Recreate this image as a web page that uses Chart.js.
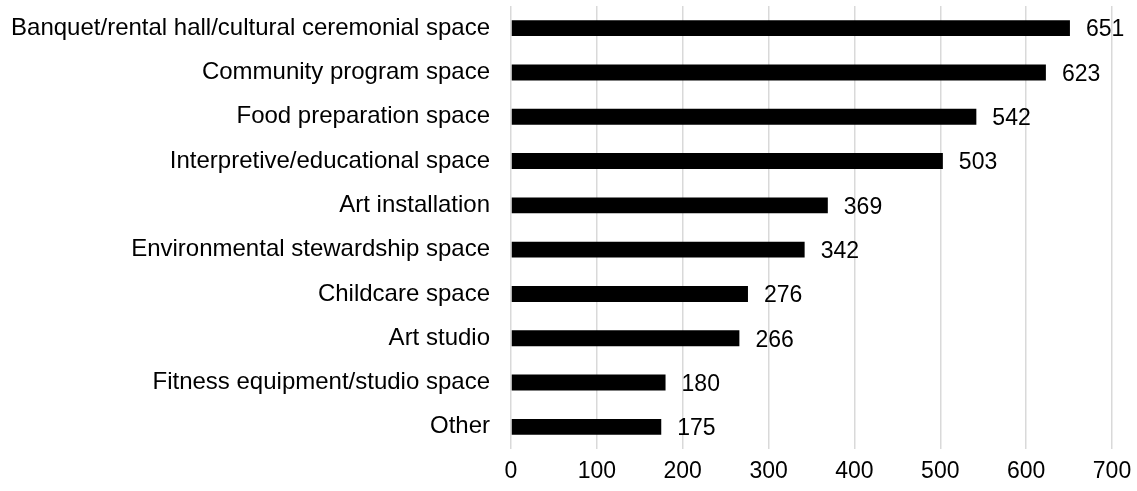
<!DOCTYPE html>
<html>
<head>
<meta charset="utf-8">
<script src="https://cdn.jsdelivr.net/npm/chart.js@4"></script>
<style>
  html, body { margin: 0; padding: 0; background: #fff; }
  #wrap { width: 1137px; height: 491px; }
</style>
</head>
<body>
<div id="wrap"><canvas id="spaceChart"></canvas></div>
<script>
const categories = [
    'Banquet/rental hall/cultural ceremonial space',
    'Community program space',
    'Food preparation space',
    'Interpretive/educational space',
    'Art installation',
    'Environmental stewardship space',
    'Childcare space',
    'Art studio',
    'Fitness equipment/studio space',
    'Other'
];
const counts = [651, 623, 542, 503, 369, 342, 276, 266, 180, 175];
const xTicks = [0, 100, 200, 300, 400, 500, 600, 700];

const fontFamily = '"Liberation Sans", Arial, sans-serif';

// draws the value next to the end of each bar
const valueLabels = {
    id: 'valueLabels',
    afterDatasetsDraw(chart) {
        const ctx = chart.ctx;
        const meta = chart.getDatasetMeta(0);
        ctx.save();
        ctx.font = '23px ' + fontFamily;
        ctx.fillStyle = '#000';
        ctx.textAlign = 'left';
        ctx.textBaseline = 'middle';
        meta.data.forEach((bar, i) => {
            ctx.fillText(counts[i], bar.x + 16, bar.y + 2);
        });
        ctx.restore();
    }
};

const ctx = document.getElementById('spaceChart').getContext('2d');
const chart = new Chart(ctx, {
    type: 'bar',
    data: {
        labels: categories,
        datasets: [{
            data: counts,
            backgroundColor: '#000',
            barPercentage: 0.36,
            categoryPercentage: 1
        }]
    },
    options: {
        indexAxis: 'y',
        responsive: true,
        maintainAspectRatio: false,
        animation: false,
        layout: { padding: { top: 6, right: 25, bottom: 0, left: 0 } },
        plugins: {
            legend: { display: false },
            tooltip: { enabled: false }
        },
        scales: {
            x: {
                min: 0,
                max: 700,
                afterBuildTicks(scale) {
                    scale.ticks = xTicks.map(v => ({ value: v }));
                },
                afterFit(scale) {
                    scale.height = 42;
                    scale.paddingLeft = 0;
                    scale.paddingRight = 0;
                },
                grid: { color: '#d9d9d9', lineWidth: 1.5, drawTicks: false },
                border: { display: false },
                ticks: {
                    color: '#000',
                    padding: 9,
                    font: { family: fontFamily, size: 23 }
                }
            },
            y: {
                afterFit(scale) {
                    scale.width = 511;
                    scale.paddingTop = 0;
                    scale.paddingBottom = 0;
                },
                grid: { display: false, drawTicks: false },
                border: { display: false },
                ticks: {
                    color: '#000',
                    padding: 21,
                    font: { family: fontFamily, size: 24 }
                }
            }
        }
    },
    plugins: [valueLabels]
});
</script>
</body>
</html>
